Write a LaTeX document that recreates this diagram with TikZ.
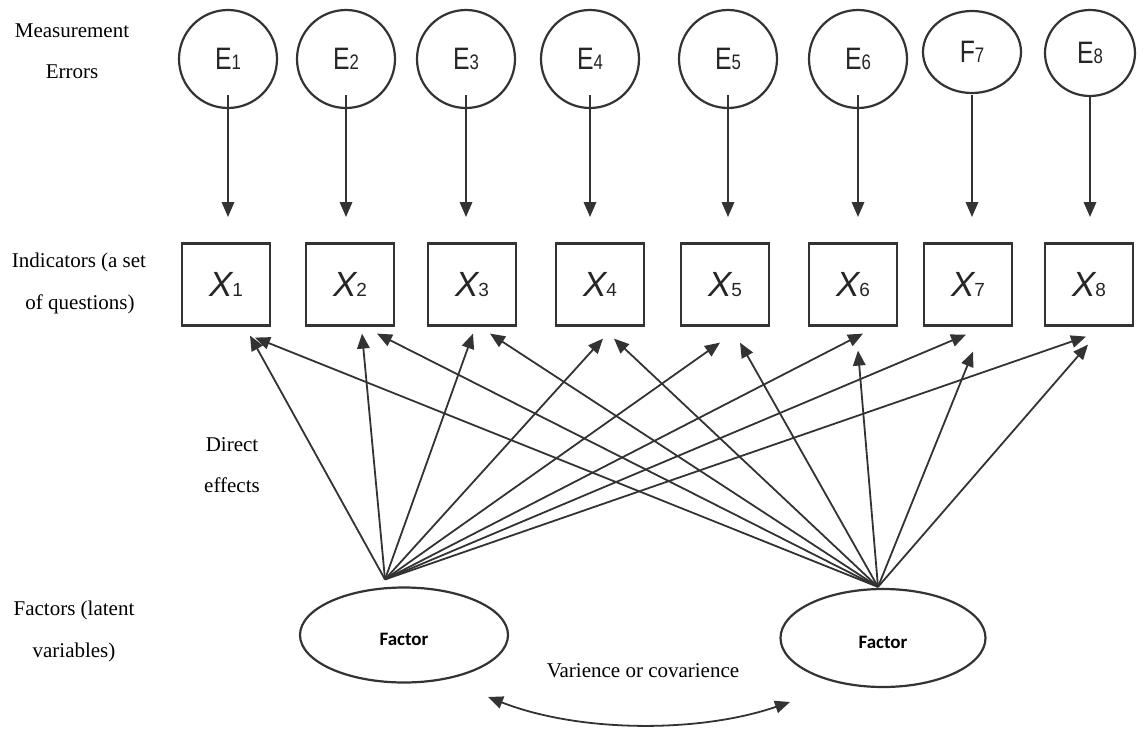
\documentclass[tikz,border=0pt]{standalone}
\usepackage{graphicx}
\usepackage{fontspec}
\setmainfont{Liberation Serif}
\newfontfamily\errsans{Liberation Sans}
\newfontfamily\facsans{Carlito}
\usetikzlibrary{arrows.meta,shapes.geometric,calc}

% label inside an error circle: large letter, smaller index on the same baseline
\newcommand\errlab[2]{\scalebox{0.8}[1]{\errsans\fontsize{31}{31}\selectfont #1\fontsize{21}{21}\selectfont #2}}
% label inside an indicator box: italic X with an upright index
\newcommand\indlab[1]{{\errsans\fontsize{35}{35}\selectfont\itshape X}{\errsans\fontsize{19}{19}\selectfont #1}}

\begin{document}
\begin{tikzpicture}[x=1pt,y=-1pt,
  ink/.style={draw=black!80, line width=2.2pt},
  errnode/.style={ellipse, ink, text=black!85, minimum width=98pt, minimum height=98pt, inner sep=0pt},
  indnode/.style={rectangle, ink, text=black!85, minimum width=88pt, minimum height=82pt, inner sep=0pt},
  facnode/.style={ellipse, ink, inner sep=0pt, text height=20pt, text depth=0pt,
    font=\facsans\bfseries\fontsize{19}{19}\selectfont},
  lab/.style={anchor=base, inner sep=0pt, font=\fontsize{21}{25}\selectfont},
  arr/.style={draw=black!80, line width=1.8pt, -{Triangle[length=15pt,width=12.5pt]}},
  arrtwo/.style={draw=black!80, line width=1.8pt, {Triangle[length=15pt,width=12.5pt]}-{Triangle[length=15pt,width=12.5pt]}}
]
\useasboundingbox (0,0) rectangle (1144,731);

% row labels on the left
\node[lab] (ml1) at (72,37) {Measurement};
\node[lab] (ml2) at (72,78) {Errors};
\node[lab] (il1) at (79,267) {Indicators (a set};
\node[lab] (il2) at (80,309) {of questions)};
\node[lab] (dl1) at (232,451) {Direct};
\node[lab] (dl2) at (232,492) {effects};
\node[lab] (fl1) at (74,615) {Factors (latent};
\node[lab] (fl2) at (74,657) {variables)};
\node[lab] (cov) at (643,677) {Varience or covarience};

% measurement errors
\node[errnode] (E1) at (228,59) {\errlab{E}{1}};
\node[errnode] (E2) at (346,59) {\errlab{E}{2}};
\node[errnode] (E3) at (466,59) {\errlab{E}{3}};
\node[errnode] (E4) at (590,59) {\errlab{E}{4}};
\node[errnode] (E5) at (728,59) {\errlab{E}{5}};
\node[errnode] (E6) at (858,59) {\errlab{E}{6}};
\node[errnode, minimum height=82pt] (E7) at (972,52) {\errlab{F}{7}};
\node[errnode, minimum width=90pt, minimum height=86pt] (E8) at (1090,53) {\errlab{E}{8}};

% indicators
\foreach \i/\x in {1/226,2/350,3/472,4/600,5/725,6/853,7/968,8/1089}
  \node[indnode] (X\i) at (\x,284.5) {\indlab{\i}};

% latent factors
\node[facnode, minimum width=208pt, minimum height=95pt] (F1) at (404,635) {Factor};
\node[facnode, minimum width=205pt, minimum height=98pt] (F2) at (883,638) {Factor};

% error -> indicator arrows
\coordinate (rowa) at (0,95);
\coordinate (rowb) at (0,217);
\foreach \i in {1,...,8}
  \draw[arr] (E\i |- rowa) -- (E\i |- rowb);

% direct effects from the two factors
\coordinate (lf) at ($(F1.north)+(-19,-7)$);
\coordinate (rf) at ($(F2.north)+(-5,-1)$);
\foreach \i/\dx/\dy in {1/24/9,2/12/7,3/1/7,4/3/12,5/-5/16,6/10/7,7/-2/8,8/-3/10}
  \draw[arr] (lf) -- ($(X\i.south)+(\dx,\dy)$);
\foreach \i/\dx/\dy in {1/29/11,2/27/7,3/18/7,4/14/12,5/15/16,6/5/24,7/5/25,8/-1/18}
  \draw[arr] (rf) -- ($(X\i.south)+(\dx,\dy)$);

% variance / covariance between the factors
\coordinate (cvl) at ($(F1.center)+(84,62)$);
\coordinate (cvr) at ($(F2.center)+(-93,64)$);
\draw[arrtwo] (cvl) .. controls ($(cvl)+(92,36)$) and ($(cvr)+(-90,31)$) .. (cvr);
\end{tikzpicture}
\end{document}
